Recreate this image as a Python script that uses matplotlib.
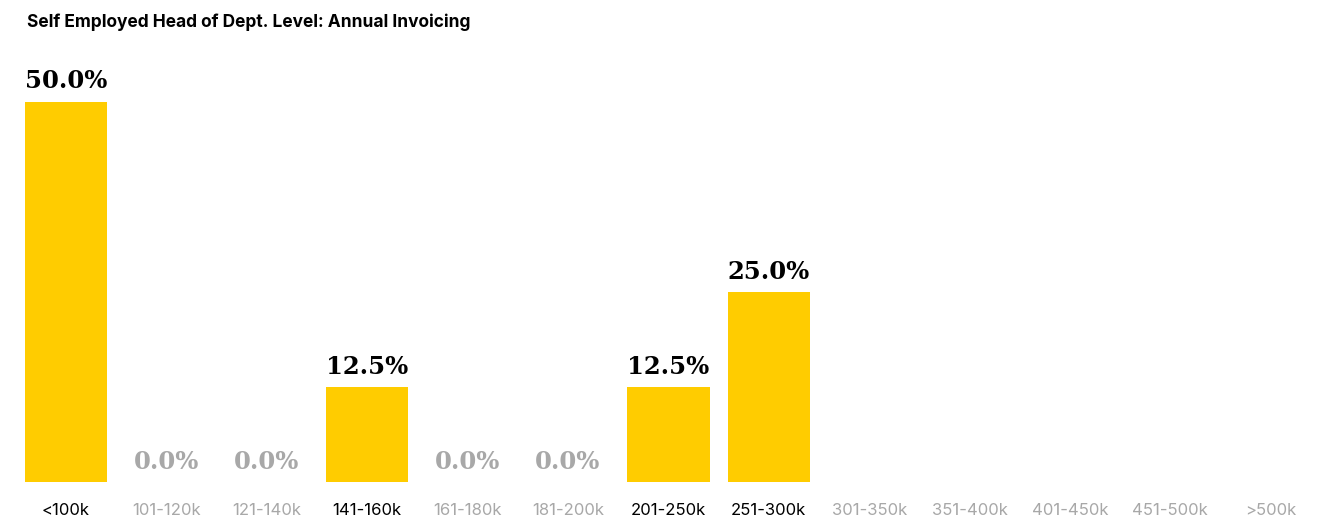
import numpy as np
import matplotlib.pyplot as plt

categories = ["<100k", "101-120k", "121-140k", "141-160k", "161-180k", "181-200k",
              "201-250k", "251-300k", "301-350k", "351-400k", "401-450k", "451-500k", ">500k"]
# share of respondents (%), None where no value is reported
shares = [50.0, 0.0, 0.0, 12.5, 0.0, 0.0, 12.5, 25.0, None, None, None, None, None]

BAR = "#FFCC00"
MUTED = "#A8A8A8"

fig = plt.figure(figsize=(13.26, 5.18), dpi=100, facecolor="white")
ax = fig.add_axes([0.0119, 0.0695, 0.9843, 0.8147])

x = np.arange(len(categories))
vals = np.array([np.nan if v is None else v for v in shares])
ax.bar(x, np.nan_to_num(vals), width=0.82, color=BAR, zorder=2)

for xi, v in zip(x, shares):
    if v is None:
        continue
    ax.annotate(f"{v:.1f}%", (xi, v), xytext=(0, 6), textcoords="offset points",
                ha="center", va="bottom", fontsize=17.5, fontweight="bold",
                family="DejaVu Serif", color="black" if v > 0 else MUTED)

ax.set_xlim(-0.5, len(categories) - 0.5)
ax.set_ylim(0, 55.5)
ax.set_xticks(x)
ax.set_xticklabels(categories, family="Inter", fontsize=12)
for lbl, v in zip(ax.get_xticklabels(), shares):
    lbl.set_color("black" if v else MUTED)
ax.tick_params(axis="x", length=0, pad=15)
ax.set_yticks([])
for s in ax.spines.values():
    s.set_visible(False)

fig.text(27 / 1326, 1 - 22 / 518, "Self Employed Head of Dept. Level: Annual Invoicing",
         family="Inter", fontweight="bold", fontsize=12.5, va="center", ha="left")

fig.savefig("out.png", dpi=100, facecolor="white")
